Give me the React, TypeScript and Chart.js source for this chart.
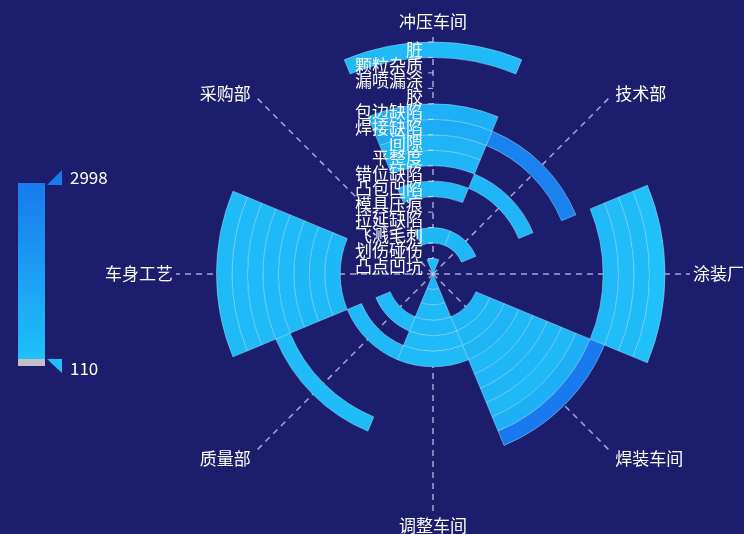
import React, { useEffect, useRef } from "react";
import { Chart, registerables } from "chart.js";

Chart.register(...registerables);

// Angle axis: departments, clockwise from the top
const departments = ["冲压车间", "技术部", "涂装厂", "焊装车间", "调整车间", "质量部", "车身工艺", "采购部"];
// Radius axis: defects, from the centre outward
const defects = ["凸点凹坑", "划伤碰伤", "飞溅毛刺", "拉延缺陷", "模具压痕", "凸包凹陷", "错位缺陷", "平整度", "间隙", "焊接缺陷", "包边缺陷", "胶", "漏喷漏涂", "颗粒杂质", "脏"];

// Values per department, one per defect (centre → outside); null = no record
const stampingShop = [260, null, 420, null, null, 380, null, 520, 610, 980, 760, null, null, null, 340];
const techDept = [null, null, 450, null, null, null, 560, null, null, 2650, null, null, null, null, null];
const paintShop = [null, null, null, null, null, null, null, null, null, null, null, 360, 240, 300, 110];
const weldingShop = [null, null, null, 520, 430, 610, 380, 470, 540, 400, 760, 2998, null, null, null];
const adjustShop = [680, 460, 390, 430, 350, 300, null, null, null, null, null, null, null, null, null];
const qualityDept = [null, null, null, 340, null, 380, null, null, null, null, 290, null, null, null, null];
const bodyProcess = [null, null, null, null, null, null, 420, 380, 450, 350, 400, 330, 360, 300, null];
const purchasing = [null, null, null, null, null, null, null, null, null, null, null, null, null, null, null];

const seriesByDepartment: (number | null)[][] = [stampingShop, techDept, paintShop, weldingShop, adjustShop, qualityDept, bodyProcess, purchasing];

const allValues = seriesByDepartment.flat().filter((v): v is number => v != null);
const minValue = Math.min(...allValues);
const maxValue = Math.max(...allValues);

const BG = "#1c1e6d";
const lowColor = [32, 192, 248];
const highColor = [24, 122, 238];
const FONT = '17px "Noto Sans CJK SC", "Noto Sans", sans-serif';

function colorFor(v: number | null): string {
  if (v == null) return "rgba(0,0,0,0)";
  const t = (v - minValue) / (maxValue - minValue);
  const c = lowColor.map((l, i) => Math.round(l + (highColor[i] - l) * t));
  return `rgb(${c.join(",")})`;
}
const rgb = (c: number[]) => `rgb(${c.join(",")})`;

const polarAxesPlugin = {
  id: "polarAxes",
  beforeDatasetsDraw(chart: any) {
    const arcs = chart.getDatasetMeta(0).data as any[];
    if (!arcs.length) return;
    const cx = arcs[0].x, cy = arcs[0].y, R = arcs[0].outerRadius;
    const ctx = chart.ctx as CanvasRenderingContext2D;
    ctx.save();
    ctx.strokeStyle = "rgba(215,210,255,0.75)";
    ctx.lineWidth = 1.5;
    ctx.setLineDash([6, 5]);
    arcs.forEach((a) => {
      const mid = (a.startAngle + a.endAngle) / 2;
      const horiz = Math.abs(Math.cos(mid));
      const len = R + 10 + 15 * horiz;
      ctx.beginPath();
      ctx.moveTo(cx, cy);
      ctx.lineTo(cx + Math.cos(mid) * len, cy + Math.sin(mid) * len);
      ctx.stroke();
    });
    ctx.restore();
  },
  afterDatasetsDraw(chart: any) {
    const arcs = chart.getDatasetMeta(0).data as any[];
    if (!arcs.length) return;
    const cx = arcs[0].x, cy = arcs[0].y, R = arcs[0].outerRadius;
    const ctx = chart.ctx as CanvasRenderingContext2D;
    ctx.save();
    ctx.font = FONT;
    ctx.fillStyle = "#ffffff";
    // angle axis labels
    arcs.forEach((a, i) => {
      const mid = (a.startAngle + a.endAngle) / 2;
      const c = Math.cos(mid), s = Math.sin(mid);
      const r = R + 20 + 8 * Math.abs(c);
      const x = cx + c * r, y = cy + s * r;
      ctx.textAlign = c > 0.2 ? "left" : c < -0.2 ? "right" : "center";
      ctx.textBaseline = "middle";
      ctx.fillText(departments[i], x, y + (Math.abs(c) > 0.2 && Math.abs(s) > 0.2 ? 2 : 0));
    });
    // radius axis ticks and labels
    const n = chart.data.datasets.length;
    ctx.strokeStyle = "rgba(230,225,255,0.8)";
    ctx.lineWidth = 1;
    for (let d = 0; d < n; d++) {
      const el = chart.getDatasetMeta(d).data[0] as any;
      const ringIndex = n - 1 - d;
      ctx.beginPath();
      ctx.moveTo(cx - 5, cy - el.outerRadius);
      ctx.lineTo(cx, cy - el.outerRadius);
      ctx.stroke();
      const midR = (el.innerRadius + el.outerRadius) / 2;
      ctx.textAlign = "right";
      ctx.textBaseline = "middle";
      ctx.fillText(defects[ringIndex], cx - 10, cy - midR);
    }
    ctx.restore();
  },
};

export default function App() {
  const canvasRef = useRef<HTMLCanvasElement | null>(null);

  useEffect(() => {
    document.body.style.margin = "0";
    document.body.style.background = BG;
    const canvas = canvasRef.current;
    if (!canvas) return;
    // rings from outside (last defect) to centre (first defect)
    const datasets = defects
      .map((name, k) => ({
        label: name,
        data: departments.map(() => 1),
        backgroundColor: seriesByDepartment.map((s) => colorFor(s[k])),
        borderColor: seriesByDepartment.map((s) => (s[k] == null ? "rgba(0,0,0,0)" : "rgba(170,232,255,0.45)")),
        borderWidth: seriesByDepartment.map((s) => (s[k] == null ? 0 : 1)),
        hoverOffset: 0,
      }))
      .reverse();

    const chart = new Chart(canvas, {
      type: "doughnut",
      data: { labels: departments, datasets },
      options: {
        responsive: false,
        animation: false,
        devicePixelRatio: 1,
        events: [],
        rotation: -22.5,
        cutout: 0,
        radius: 232,
        layout: { padding: { left: 201, right: 79, top: 42, bottom: 28 } },
        plugins: { legend: { display: false }, tooltip: { enabled: false } },
      } as any,
      plugins: [polarAxesPlugin],
    });
    return () => chart.destroy();
  }, []);

  const label: React.CSSProperties = {
    position: "absolute",
    left: 70,
    color: "#fff",
    font: FONT,
    lineHeight: "18px",
  };

  return (
    <div style={{ position: "relative", width: 744, height: 534, background: BG, overflow: "hidden" }}>
      <canvas ref={canvasRef} width={744} height={534} style={{ position: "absolute", left: 0, top: 0 }} />
      {/* continuous visual map */}
      <div style={{ position: "absolute", left: 18, top: 183, width: 27, height: 176, background: `linear-gradient(to bottom, ${rgb(highColor)}, ${rgb(lowColor)})` }} />
      <div style={{ position: "absolute", left: 18, top: 359, width: 27, height: 7, background: "#c4bcc6" }} />
      <div style={{ position: "absolute", left: 47, top: 170, width: 15, height: 15, background: rgb(highColor), clipPath: "polygon(100% 0, 100% 100%, 0 100%)" }} />
      <div style={{ position: "absolute", left: 47, top: 359, width: 15, height: 14, background: rgb(lowColor), clipPath: "polygon(0 0, 100% 0, 100% 100%)" }} />
      <div style={{ ...label, top: 168 }}>{maxValue}</div>
      <div style={{ ...label, top: 359 }}>{minValue}</div>
    </div>
  );
}
